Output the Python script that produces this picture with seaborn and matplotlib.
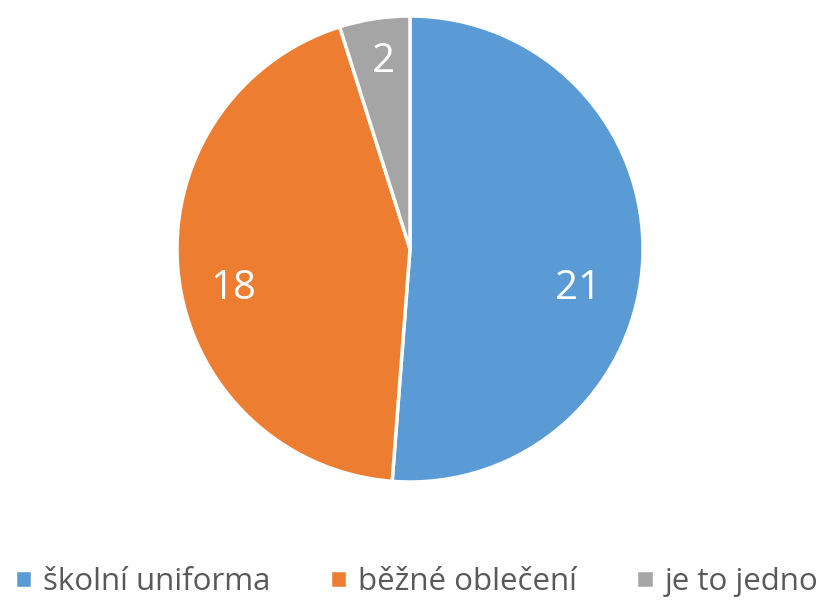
import matplotlib
matplotlib.use("Agg")
import matplotlib.pyplot as plt
import seaborn as sns

# data
kategorie = ['školní uniforma', 'běžné oblečení', 'je to jedno']
pocty = [21, 18, 2]
barvy = ['#5B9BD5', '#ED7D31', '#A5A5A5']

sns.set_theme(style="white")
plt.rcParams['font.family'] = ['Open Sans', 'DejaVu Sans']

fig = plt.figure(figsize=(8.25, 6.04), dpi=100)
# pie centre ~ (410, 249) px, radius ~ 233 px
W, H = 825, 604
cx, cy, r = 410, 249, 233
ax = fig.add_axes([(cx - r) / W, (H - cy - r) / H, 2 * r / W, 2 * r / H])

wedges, texts = ax.pie(pocty, colors=barvy, startangle=90, counterclock=False,
                       labels=[str(p) for p in pocty], labeldistance=0.75,
                       wedgeprops=dict(edgecolor='white', linewidth=2.5),
                       textprops=dict(color='white', fontsize=29))
for t in texts:
    t.set_ha('center')
    t.set_va('center')
# Excel-style label placement
texts[0].set_position((0.72, -0.17))
texts[1].set_position((-0.76, -0.17))
texts[2].set_position((-0.115, 0.805))
ax.set_xlim(-1, 1)
ax.set_ylim(-1, 1)
ax.set_aspect('equal')
ax.axis('off')

leg = fig.legend(wedges, kategorie, loc='lower center', ncol=3, frameon=False,
                 bbox_to_anchor=(0.505, -0.035), fontsize=22.5, handlelength=0.55,
                 handleheight=0.55, handletextpad=0.35, columnspacing=1.9,
                 labelcolor='#595959')

fig.savefig('out.png', dpi=100)
